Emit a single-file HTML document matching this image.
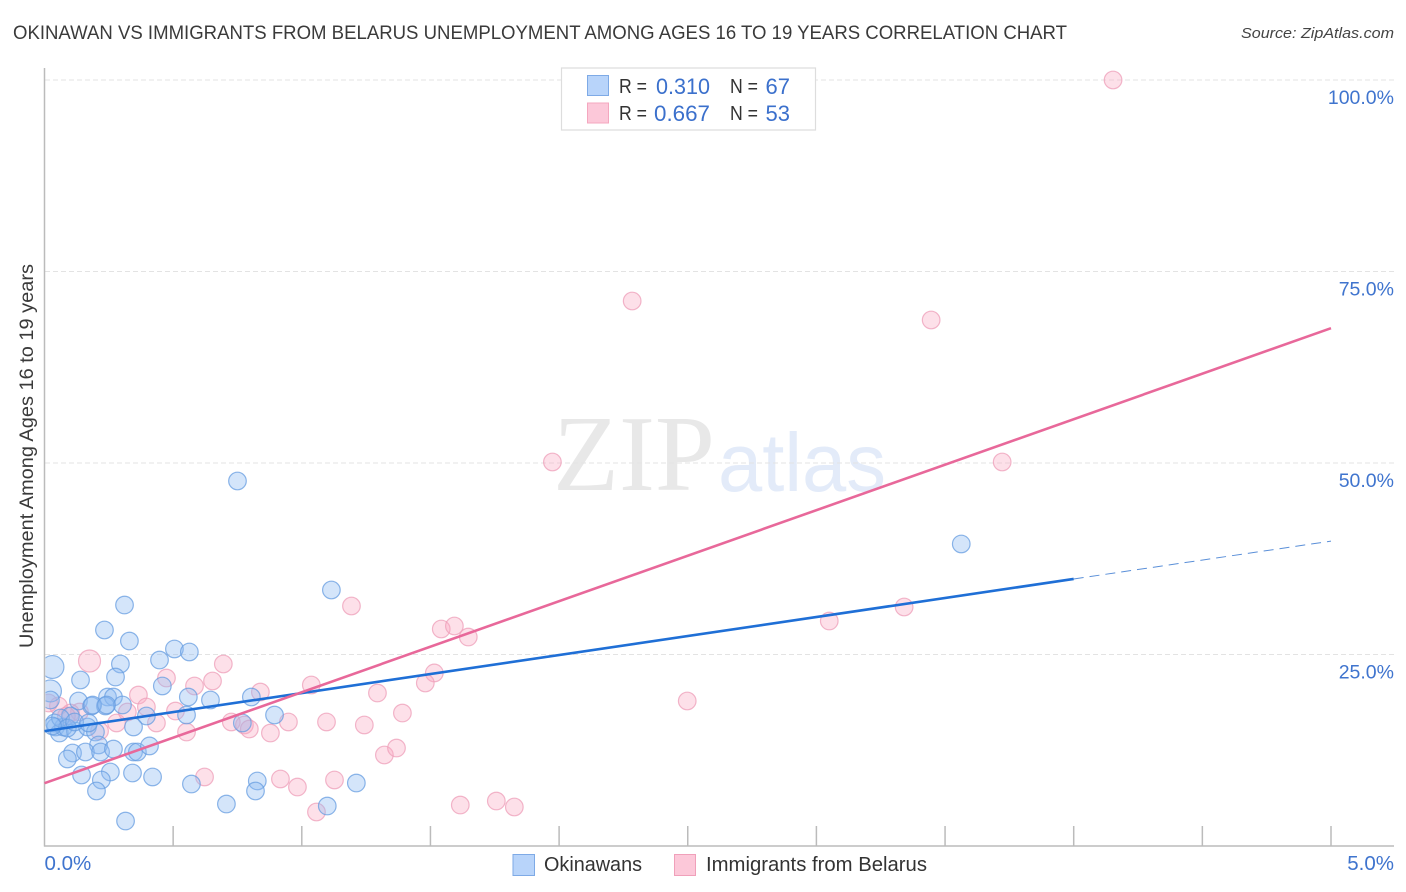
<!DOCTYPE html>
<html lang="en">
<head>
<meta charset="utf-8">
<title>Okinawan vs Immigrants from Belarus Unemployment Correlation Chart</title>
<style>
  html, body { margin: 0; padding: 0; background: #fff; }
  body { width: 1406px; height: 892px; overflow: hidden; }
  svg { display: block; font-family: "Liberation Sans", Arial, sans-serif; }
</style>
</head>
<body>
<svg id="chart" width="1406" height="892" viewBox="0 0 1406 892" xmlns="http://www.w3.org/2000/svg">
  <rect x="0" y="0" width="1406" height="892" fill="#ffffff"/>
  <defs>
    <clipPath id="plot-clip"><rect x="45.5" y="60" width="1349" height="786"/></clipPath>
  </defs>

  <text x="13" y="39" font-size="19" fill="#3a3a3a" textLength="1054" lengthAdjust="spacingAndGlyphs">OKINAWAN VS IMMIGRANTS FROM BELARUS UNEMPLOYMENT AMONG AGES 16 TO 19 YEARS CORRELATION CHART</text>
  <text x="1241" y="38" font-size="15" font-style="italic" fill="#444444" textLength="153" lengthAdjust="spacingAndGlyphs">Source: ZipAtlas.com</text>

  <g>
    <text x="553" y="490" font-family="'Liberation Serif', serif" font-size="108" fill="#e8e8e8" textLength="162" lengthAdjust="spacingAndGlyphs">ZIP</text>
    <text x="718" y="491" font-size="83" fill="#e3ebf9" textLength="168" lengthAdjust="spacingAndGlyphs">atlas</text>
  </g>

  <g id="grid"></g>
  <g id="axes"></g>
  <g id="marks" clip-path="url(#plot-clip)"></g>
  <g id="trends"></g>
  <g id="labels"></g>

  <text transform="translate(33,456) rotate(-90)" text-anchor="middle" font-size="19" fill="#3a3a3a" textLength="384" lengthAdjust="spacingAndGlyphs">Unemployment Among Ages 16 to 19 years</text>

  <g>
    <rect x="561.5" y="68" width="254" height="62" fill="#ffffff" stroke="#dddddd" stroke-width="1.2"/>
    <rect x="587.5" y="75.5" width="21" height="20" fill="#b8d4fa" stroke="#7eaae6" stroke-width="1"/>
    <text x="619" y="93" font-size="20" fill="#333333" textLength="28" lengthAdjust="spacingAndGlyphs">R =</text>
    <text x="710" y="94" font-size="22" fill="#3b70cc" text-anchor="end" textLength="54" lengthAdjust="spacingAndGlyphs">0.310</text>
    <text x="730" y="93" font-size="20" fill="#333333" textLength="28" lengthAdjust="spacingAndGlyphs">N =</text>
    <text x="790" y="94" font-size="22" fill="#3b70cc" text-anchor="end">67</text>
    <rect x="587.5" y="103" width="21" height="20" fill="#fcc8d9" stroke="#f4a7bf" stroke-width="1"/>
    <text x="619" y="120" font-size="20" fill="#333333" textLength="28" lengthAdjust="spacingAndGlyphs">R =</text>
    <text x="710" y="121" font-size="22" fill="#3b70cc" text-anchor="end" textLength="56" lengthAdjust="spacingAndGlyphs">0.667</text>
    <text x="730" y="120" font-size="20" fill="#333333" textLength="28" lengthAdjust="spacingAndGlyphs">N =</text>
    <text x="790" y="121" font-size="22" fill="#3b70cc" text-anchor="end">53</text>
  </g>

  <g>
    <rect x="513" y="854.5" width="21.5" height="21" fill="#b8d4fa" stroke="#7eaae6" stroke-width="1"/>
    <text x="544" y="871" font-size="20" fill="#333333" textLength="98" lengthAdjust="spacingAndGlyphs">Okinawans</text>
    <rect x="674.5" y="854.5" width="21" height="21" fill="#fcc8d9" stroke="#f0a0ba" stroke-width="1"/>
    <text x="706" y="871" font-size="20" fill="#333333" textLength="221" lengthAdjust="spacingAndGlyphs">Immigrants from Belarus</text>
  </g>
</svg>

<script>
// Chart data (percent units)
const okinawanX = [0.311,0.233,0.330,0.505,0.563,0.447,0.295,0.031,0.276,0.140,0.458,0.023,0.559,0.245,0.268,0.645,0.132,0.023,0.183,0.237,0.303,0.396,0.552,0.346,0.043,0.058,0.074,0.120,0.167,0.198,0.101,0.210,0.109,0.089,0.159,0.218,0.268,0.346,0.361,0.408,0.144,0.256,0.221,0.202,0.342,0.420,0.571,0.315,0.707,1.115,0.804,0.894,0.769,0.827,0.820,1.212,1.099,0.750,3.563,0.039,0.062,0.089,0.117,0.171,0.031,0.187,0.241];
const okinawanY = [31.46,28.2,26.76,25.72,25.33,24.28,23.76,23.37,22.06,21.67,20.89,20.24,19.45,19.45,19.45,19.06,18.93,19.06,18.28,18.28,18.41,16.97,17.10,15.54,15.54,14.75,15.54,15.01,15.54,14.88,16.97,13.19,12.14,11.36,12.27,12.27,12.66,12.27,12.27,13.06,9.27,9.66,8.62,7.18,9.53,9.01,8.09,3.26,5.48,33.42,19.45,17.10,16.06,8.49,7.18,8.22,5.22,47.65,39.43,16.06,16.71,15.40,16.19,16.06,15.67,18.4,18.41];
const okinawanWeight = [1,1,1,1,1,1,1,1.3,1,1,1,1.25,1,1,1,1,1,1,1,1,1,1,1,1,1,1,1,1,1,1,1,1,1,1,1,1,1,1,1,1,1,1,1,1,1,1,1,1,1,1,1,1,1,1,1,1,1,1,1,1,1,1,1,1,1,1,1];
const belarusX = [4.153,2.284,3.446,1.974,3.722,3.341,3.05,1.193,1.542,1.593,1.647,0.175,0.695,1.515,1.480,2.498,1.294,1.037,0.839,0.583,0.653,0.474,0.365,0.396,0.509,0.435,0.552,0.280,0.322,0.214,0.136,0.101,0.054,0.016,0.622,0.726,0.777,0.796,0.878,0.948,1.096,1.243,1.391,1.321,1.368,0.917,0.983,1.127,1.057,1.616,1.756,1.826,0.085];
const belarusY = [100,71.15,68.67,50.13,50.13,31.2,29.37,31.33,28.33,28.72,27.28,24.15,23.76,22.59,21.28,18.93,19.97,21.02,20.10,20.89,21.54,21.93,19.71,18.15,17.62,16.06,14.88,16.06,17.49,15.01,17.49,17.36,18.28,18.67,9.01,16.19,15.80,15.27,14.75,16.19,16.19,15.80,17.36,11.88,12.79,8.75,7.70,8.62,4.44,5.35,5.87,5.09,16.97];
const belarusWeight = [1,1,1,1,1,1,1,1,1,1,1,1.25,1,1,1,1,1,1,1,1,1,1,1,1,1,1,1,1,1,1,1,1,1,1,1,1,1,1,1,1,1,1,1,1,1,1,1,1,1,1,1,1,1];
const okinawanTrendX = [0, 4];
const okinawanTrendY = [15.0, 34.86];
const okinawanProjectionX = [4, 5];
const okinawanProjectionY = [34.86, 39.8];
const belarusTrendX = [0, 5];
const belarusTrendY = [8.2, 67.6];
const yGridValues = [100, 75, 50, 25];
const yTickLabels = ["100.0%", "75.0%", "50.0%", "25.0%"];
const xTickValues = [0.5, 1, 1.5, 2, 2.5, 3, 3.5, 4, 4.5, 5];
const xEndValues = [0, 5];
const xEndLabels = ["0.0%", "5.0%"];

// Axis functions
function xScale(v) { return 44.5 + v * 257.3; }
function yScale(v) { return 846 - v * 7.66; }

const NS = "http://www.w3.org/2000/svg";
function make(tag, parent, attrs) {
  const el = document.createElementNS(NS, tag);
  for (const k in attrs) el.setAttribute(k, attrs[k]);
  parent.appendChild(el);
  return el;
}

const grid = document.getElementById("grid");
const axes = document.getElementById("axes");
const marks = document.getElementById("marks");
const trends = document.getElementById("trends");
const labels = document.getElementById("labels");

yGridValues.forEach(function (v, i) {
  const line = make("line", grid, { x1: 45, x2: 1394, y1: yScale(v), y2: yScale(v), stroke: "#e3e3e3", "stroke-width": 1, "stroke-dasharray": "5 3" });
  
  
  const t = make("text", labels, { x: 1394, y: yScale(v) + 24, "text-anchor": "end", "font-size": 19.5, fill: "#3f74ce" });
  
  
  t.textContent = yTickLabels[i];
});

const yAxis = make("line", axes, { x1: 44.5, x2: 44.5, y1: 68, y2: 846.5, stroke: "#bbbbbb", "stroke-width": 1.5 });


const xAxis = make("line", axes, { x1: 44, x2: 1394, y1: 846, y2: 846, stroke: "#bbbbbb", "stroke-width": 1.5 });


xTickValues.forEach(function (v) {
  const tick = make("line", axes, { x1: xScale(v), x2: xScale(v), y1: 826, y2: 846, stroke: "#bbbbbb", "stroke-width": 1.5 });
  
  
});
xEndValues.forEach(function (v, i) {
  const t = make("text", labels, { x: i === 0 ? xScale(v) : 1394, y: 870, "text-anchor": i === 0 ? "start" : "end", "font-size": 20.5, fill: "#3f74ce" });
  
  
  t.textContent = xEndLabels[i];
});

belarusX.forEach(function (x, i) {
  const c = make("circle", marks, { cx: xScale(x), cy: yScale(belarusY[i]), r: 8.8 * belarusWeight[i], fill: "#f9a8c1", "fill-opacity": 0.36, stroke: "#ee9db8", "stroke-width": 1.2, "stroke-opacity": 0.75 });
  
  
});
okinawanX.forEach(function (x, i) {
  const c = make("circle", marks, { cx: xScale(x), cy: yScale(okinawanY[i]), r: 8.8 * okinawanWeight[i], fill: "#8fbaf3", "fill-opacity": 0.38, stroke: "#659ce0", "stroke-width": 1.2, "stroke-opacity": 0.75 });
  
  
});

const okTrend = make("line", trends, { x1: xScale(okinawanTrendX[0]), y1: yScale(okinawanTrendY[0]), x2: xScale(okinawanTrendX[1]), y2: yScale(okinawanTrendY[1]), stroke: "#1f6fd6", "stroke-width": 2.6 });


const okProj = make("line", trends, { x1: xScale(okinawanProjectionX[0]), y1: yScale(okinawanProjectionY[0]), x2: xScale(okinawanProjectionX[1]), y2: yScale(okinawanProjectionY[1]), stroke: "#5a8fd8", "stroke-width": 1, "stroke-dasharray": "10 6" });


const beTrend = make("line", trends, { x1: xScale(belarusTrendX[0]), y1: yScale(belarusTrendY[0]), x2: xScale(belarusTrendX[1]), y2: yScale(belarusTrendY[1]), stroke: "#e8689a", "stroke-width": 2.6 });


</script>
</body>
</html>
